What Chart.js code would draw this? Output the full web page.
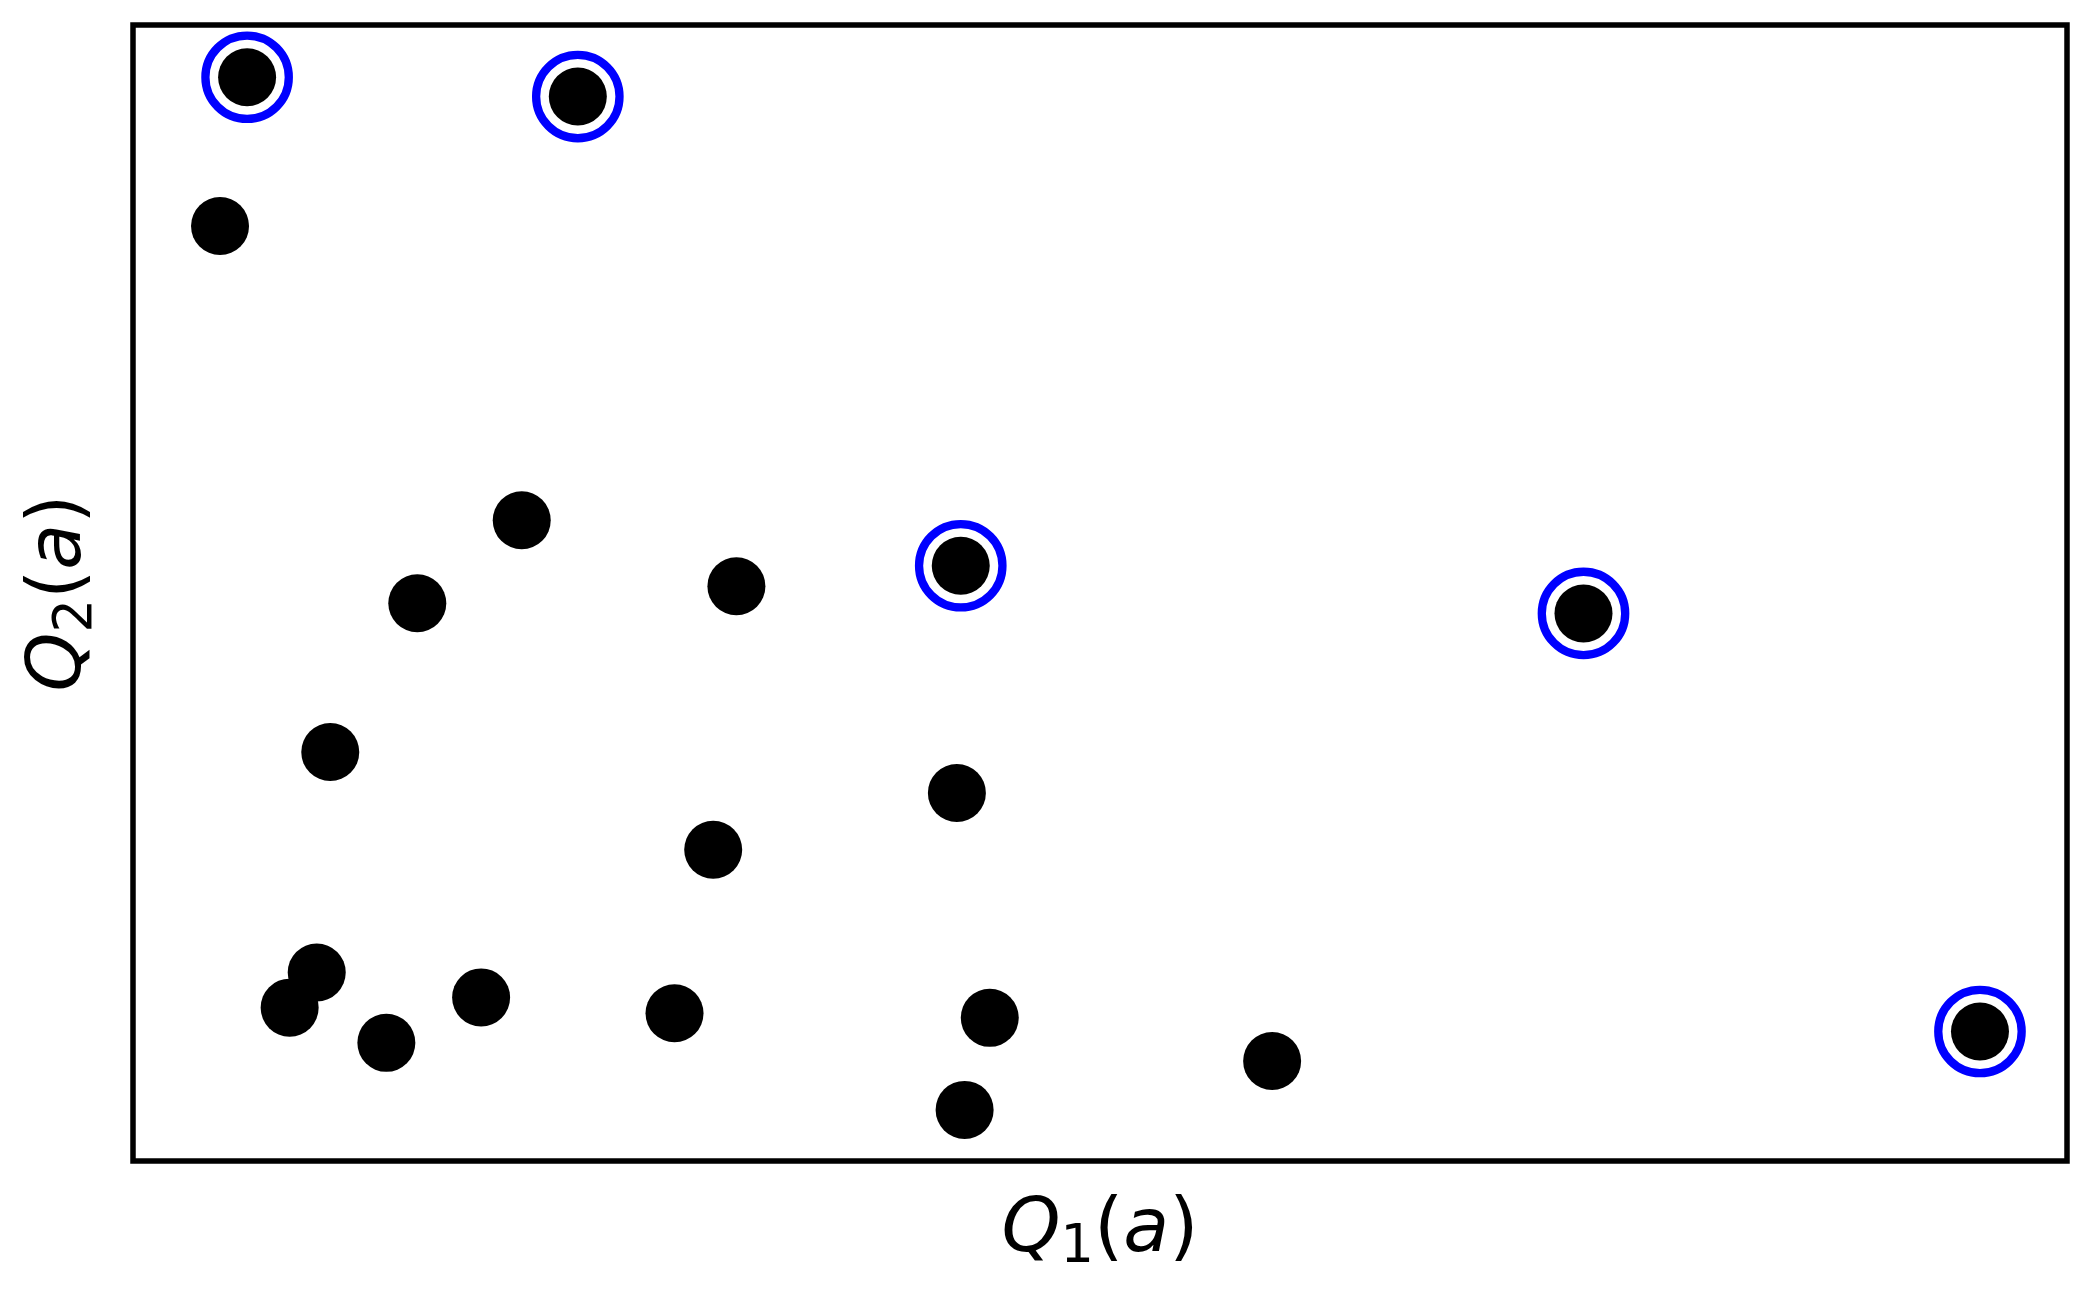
<!DOCTYPE html>
<html>
<head>
<meta charset="utf-8">
<script src="https://cdn.jsdelivr.net/npm/chart.js@4/dist/chart.umd.min.js"></script>
<style>
  html, body { margin: 0; padding: 0; background: #ffffff; }
  #wrap { width: 2092px; height: 1293px; }
</style>
</head>
<body>
<div id="wrap"><canvas id="c" width="2092" height="1293"></canvas></div>
<script>
// Values (arbitrary units, axes have no ticks)
const xValues = [0.059, 0.230, 0.045, 0.201, 0.147, 0.312, 0.428, 0.750, 0.102, 0.426,
                 0.300, 0.095, 0.081, 0.180, 0.131, 0.280, 0.443, 0.430, 0.589, 0.955];
const yValues = [0.954, 0.937, 0.823, 0.564, 0.491, 0.506, 0.524, 0.482, 0.360, 0.324,
                 0.274, 0.166, 0.135, 0.144, 0.104, 0.130, 0.126, 0.045, 0.088, 0.114];
// indices of the highlighted (circled) points
const highlighted = [0, 1, 6, 7, 19];
// axis labels: Q with subscript, then (a)
const xLabelParts = ['Q', '1', '(', 'a', ')'];
const yLabelParts = ['Q', '2', '(', 'a', ')'];

const allPoints = xValues.map((x, i) => ({ x: x, y: yValues[i] }));
const ringPoints = highlighted.map(i => ({ x: xValues[i], y: yValues[i] }));

const FONT = "'DejaVu Sans'";
const MAIN = 75;
const SUB = 52.5;

function labelSegments(parts) {
  return [
    { t: parts[0], italic: true, size: MAIN, dy: 0 },
    { t: parts[1], italic: false, size: SUB, dy: 11 },
    { t: parts[2], italic: false, size: MAIN, dy: 0 },
    { t: parts[3], italic: true, size: MAIN, dy: 0 },
    { t: parts[4], italic: false, size: MAIN, dy: 0 }
  ];
}

function drawRich(ctx, segs, cx, baseY, rotation) {
  ctx.save();
  ctx.translate(cx, baseY);
  ctx.rotate(rotation);
  ctx.fillStyle = '#000000';
  ctx.textBaseline = 'alphabetic';
  ctx.textAlign = 'left';
  let total = 0;
  const widths = segs.map(s => {
    ctx.font = (s.italic ? 'italic ' : '') + s.size + 'px ' + FONT;
    const w = ctx.measureText(s.t).width;
    total += w;
    return w;
  });
  let x = -total / 2;
  segs.forEach((s, i) => {
    ctx.font = (s.italic ? 'italic ' : '') + s.size + 'px ' + FONT;
    ctx.fillText(s.t, x, s.dy);
    x += widths[i];
  });
  ctx.restore();
}

const framePlugin = {
  id: 'frameAndLabels',
  afterDraw(chart) {
    const a = chart.chartArea;
    const ctx = chart.ctx;
    ctx.save();
    ctx.strokeStyle = '#000000';
    ctx.lineWidth = 5.5;
    ctx.strokeRect(a.left, a.top, a.right - a.left, a.bottom - a.top);
    ctx.restore();
    const cx = (a.left + a.right) / 2;
    const cy = (a.top + a.bottom) / 2;
    drawRich(ctx, labelSegments(xLabelParts), cx, a.bottom + 90, 0);
    drawRich(ctx, labelSegments(yLabelParts), a.left - 53, cy, -Math.PI / 2);
  }
};

new Chart(document.getElementById('c'), {
  type: 'scatter',
  data: {
    datasets: [
      {
        data: allPoints,
        pointRadius: 29,
        pointHoverRadius: 29,
        backgroundColor: '#000000',
        borderWidth: 0,
        order: 2
      },
      {
        data: ringPoints,
        pointRadius: 41.7,
        pointHoverRadius: 41.7,
        backgroundColor: 'rgba(0,0,0,0)',
        borderColor: '#0000ff',
        borderWidth: 8.3,
        order: 1
      }
    ]
  },
  options: {
    responsive: false,
    animation: false,
    events: [],
    layout: { autoPadding: false, padding: { top: 25, right: 25, bottom: 132, left: 133 } },
    plugins: { legend: { display: false }, tooltip: { enabled: false } },
    scales: {
      x: {
        type: 'linear', min: 0, max: 1,
        ticks: { display: false },
        grid: { display: false, drawTicks: false },
        border: { display: false },
        title: { display: false }
      },
      y: {
        type: 'linear', min: 0, max: 1,
        ticks: { display: false },
        grid: { display: false, drawTicks: false },
        border: { display: false },
        title: { display: false }
      }
    }
  },
  plugins: [framePlugin]
});
</script>
</body>
</html>
